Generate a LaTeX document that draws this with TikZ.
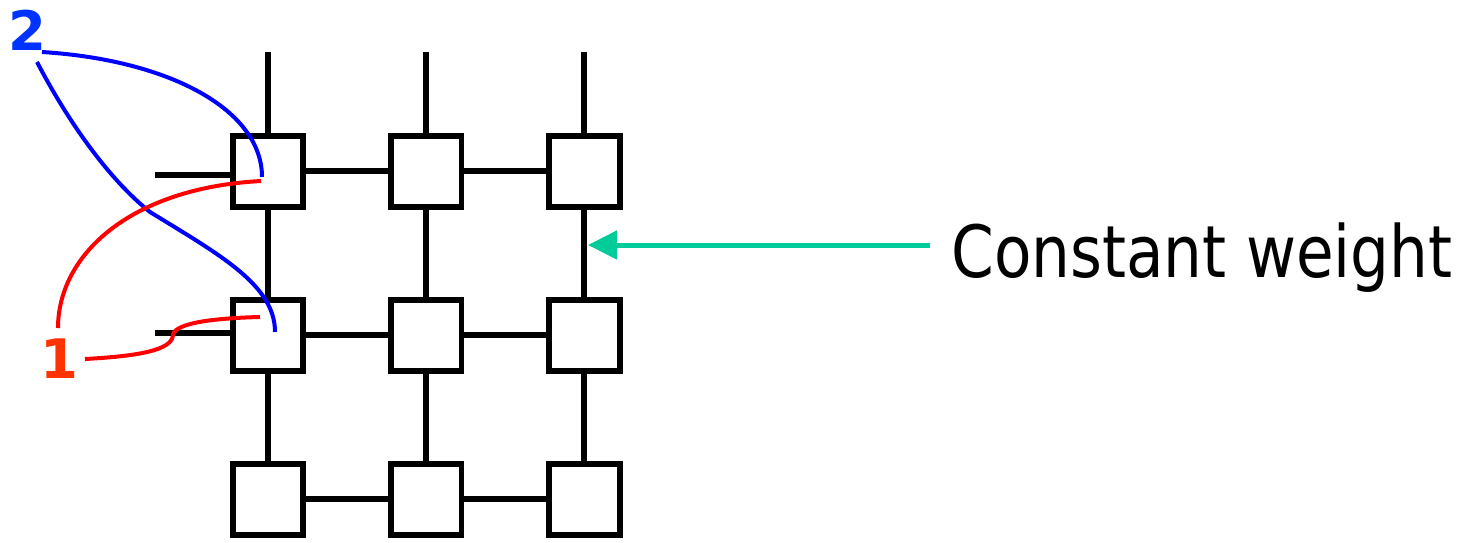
\documentclass[tikz,border=0pt]{standalone}
\usepackage{fontspec}
\setmainfont{DejaVu Sans}
\newfontfamily\notefont[FakeStretch=0.85]{DejaVu Sans}
\usetikzlibrary{arrows.meta, calc}
\definecolor{pathblue}{RGB}{0,0,255}
\definecolor{pathred}{RGB}{255,0,0}
\definecolor{numblue}{RGB}{0,51,255}
\definecolor{numred}{RGB}{255,51,0}
\definecolor{wgreen}{RGB}{0,204,153}

\begin{document}
\begin{tikzpicture}[x=0.02cm, y=-0.02cm,
    cell/.style={draw, line width=0.12cm, minimum size=1.42cm, inner sep=0pt},
    wire/.style={line width=0.12cm},
    route/.style={line width=0.08cm},
    num/.style={anchor=base west, inner sep=0pt, font=\fontsize{31}{31}\selectfont\bfseries}]
    \useasboundingbox (0,0) rectangle (1470,542);
    % mesh of routers
    \foreach \r/\y in {1/171,2/335,3/499}
      \foreach \c/\x in {1/268,2/426,3/584}
        \node[cell] (b\r\c) at (\x,\y) {};
    \foreach \r in {1,2,3} {
      \draw[wire] (b\r1) -- (b\r2);
      \draw[wire] (b\r2) -- (b\r3);
    }
    \foreach \c in {1,2,3} {
      \draw[wire] (b1\c) -- (b2\c);
      \draw[wire] (b2\c) -- (b3\c);
      \coordinate (top\c) at ($(b1\c.north)+(0,-81)$);
      \draw[wire] (b1\c.north) -- (top\c);
    }
    \coordinate (in1) at (155,175);
    \coordinate (in2) at (155,333);
    \draw[wire] (in1) -- (in1 -| b11.west);
    \draw[wire] (in2) -- (in2 -| b21.west);
    % labels
    \node[num, text=numblue] (two) at (8,50) {2};
    \node[num, text=numred] (one) at (40,378) {1};
    \node[anchor=base west, inner sep=0pt, font=\notefont\fontsize{41}{41}\selectfont] (cw) at (951,277) {Constant weight};
    % end points inside the routers
    \coordinate (p2a) at (262,177);
    \coordinate (p2b) at (275,332);
    \coordinate (p1a) at (261,181);
    \coordinate (p1b) at (260,317);
    % route 2
    \draw[route, pathblue] (42,52) .. controls (170,60) and (262,110) .. (p2a);
    \draw[route, pathblue] (37,62) .. controls (70,125) and (110,180) .. (150,212)
      .. controls (220,255) and (275,285) .. (p2b);
    % route 1
    \draw[route, pathred] (58,328) .. controls (58,255) and (130,188) .. (p1a);
    \draw[route, pathred] (85,359) .. controls (140,356) and (172,350) .. (173,335)
      .. controls (175,322) and (220,318) .. (p1b);
    % constant weight link
    \coordinate (wtail) at (930,245);
    \coordinate (whead) at (588,245);
    \draw[wgreen, line width=0.1cm, -{Triangle[length=0.58cm, width=0.56cm]}] (wtail) -- (whead);
  \end{tikzpicture}
\end{document}
